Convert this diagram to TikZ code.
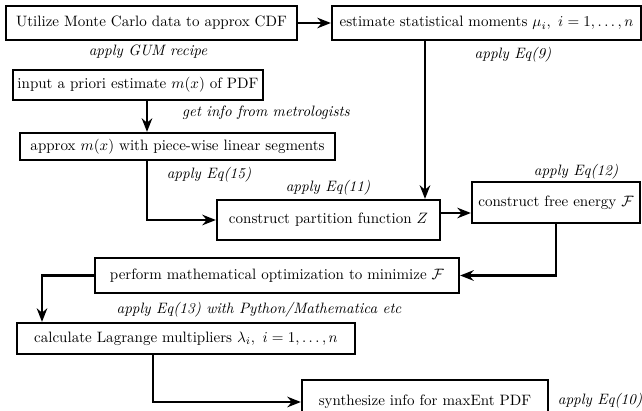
\documentclass[tikz,border=0pt]{standalone}
\usepackage{amsmath}
\usepackage{amssymb}
\usepackage{tikz}
\usetikzlibrary{calc}
\usetikzlibrary{arrows.meta}

\newcommand{\pu}{0.665pt}

\begin{document}
\begin{tikzpicture}[x=0.665pt, y=-0.665pt, >={Stealth[length=9pt,width=7pt]}, line width=1.5pt,
        box/.style={draw, line width=1.5pt, inner sep=1pt},
        note/.style={font=\itshape}]
        \useasboundingbox (0,0) rectangle (642,410);
        % boxes
        \node[box, minimum width=291*\pu, minimum height=34*\pu] (cdf) at (151.5,23) {Utilize Monte Carlo data to approx CDF};
        \node[box, minimum width=309*\pu, minimum height=34*\pu] (mom) at (486.5,23) {estimate statistical moments $\mu_i,\ i=1,\ldots,n$};
        \node[box, minimum width=250*\pu, minimum height=30*\pu] (prior) at (138,85) {input a priori estimate $m(x)$ of PDF};
        \node[box, minimum width=315*\pu, minimum height=27*\pu] (approx) at (177.5,146.5) {approx $m(x)$ with piece-wise linear segments};
        \node[box, minimum width=223*\pu, minimum height=40*\pu] (part) at (328.5,220) {construct partition function $Z$};
        \node[box, minimum width=168*\pu, minimum height=41*\pu] (free) at (556,202.5) {construct free energy $\mathcal{F}$};
        \node[box, minimum width=364*\pu, minimum height=35*\pu] (opt) at (277,275.5) {perform mathematical optimization to minimize $\mathcal{F}$};
        \node[box, minimum width=338*\pu, minimum height=31*\pu] (lag) at (186,338.5) {calculate Lagrange multipliers $\lambda_i,\ i=1,\ldots,n$};
        \node[box, minimum width=246*\pu, minimum height=44*\pu] (syn) at (425,402) {synthesize info for maxEnt PDF};
        % labels
        \node[note] at (148,52) {apply GUM recipe};
        \node[note] at (513,55) {apply Eq(9)};
        \node[note] at (266,113) {get info from metrologists};
        \node[note] at (209,175) {apply Eq(15)};
        \node[note] at (328,188) {apply Eq(11)};
        \node[note] at (576,172) {apply Eq(12)};
        \node[note] at (259,310) {apply Eq(13) with Python/Mathematica etc};
        \node[note] at (600,401) {apply Eq(10)};
        % connectors
        \coordinate (c1) at (425,0);
        \coordinate (c2) at (147,0);
        \coordinate (c3) at (42,0);
        \coordinate (c4) at (153,0);
        \coordinate (c5) at (0,213);
        \draw[->] (cdf.east) -- (mom.west);
        \draw[->] (mom.south -| c1) -- (part.north -| c1);
        \draw[->] (prior.south -| c2) -- (approx.north -| c2);
        \draw[->] (approx.south -| c2) |- (part.west);
        \draw[->] (part.east |- c5) -- (free.west |- c5);
        \draw[->] (free.south) |- (opt.east);
        \draw[->] (opt.west) -| (lag.north -| c3);
        \draw[->] (lag.south -| c4) |- (syn.west);
    \end{tikzpicture}
\end{document}
